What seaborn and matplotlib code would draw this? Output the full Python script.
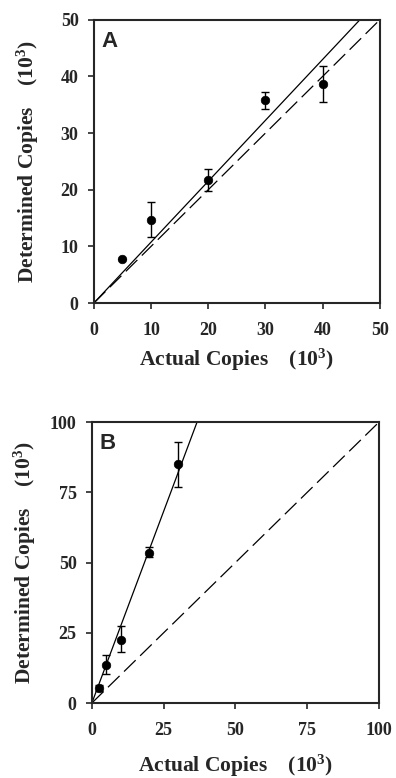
import numpy as np
import pandas as pd
import matplotlib
matplotlib.use('Agg')
import matplotlib.pyplot as plt
import seaborn as sns

# Панель A: фактические и определённые копии (10^3)
actual_a = [5, 10, 20, 30, 40]
determined_a = [7.7, 14.7, 21.7, 35.8, 38.7]
err_low_a = [0.0, 3.0, 1.9, 1.5, 3.2]
err_high_a = [0.0, 3.1, 1.9, 1.5, 3.2]
slope_a = 1.075

# Панель B
actual_b = [2.5, 5, 10, 20, 30]
determined_b = [5.3, 13.5, 22.5, 53.5, 85.0]
err_low_b = [1.0, 3.0, 4.5, 1.5, 8.0]
err_high_b = [1.0, 3.5, 5.0, 2.0, 8.0]
slope_b = 2.73

ticks_a = [0, 10, 20, 30, 40, 50]
ticks_b = [0, 25, 50, 75, 100]

sns.set_style('ticks')
plt.rcParams['font.family'] = ['Liberation Serif', 'DejaVu Serif']
plt.rcParams['font.weight'] = 'bold'
plt.rcParams['mathtext.fontset'] = 'custom'
plt.rcParams['mathtext.rm'] = 'Liberation Serif:bold'
plt.rcParams['mathtext.bf'] = 'Liberation Serif:bold'
plt.rcParams['mathtext.default'] = 'bf'

fig = plt.figure(figsize=(3.96, 7.78), dpi=100)
ax_a = fig.add_axes([0.237, 0.6105, 0.722, 0.364])
ax_b = fig.add_axes([0.232, 0.0964, 0.725, 0.361])


def draw_panel(ax, xs, ys, lo, hi, slope, lim, ticks, letter, xlab_y):
    df = pd.DataFrame({'x': xs, 'y': ys})
    line = pd.DataFrame({'x': [0, lim], 'fit': [0, slope * lim], 'ideal': [0, lim]})
    sns.lineplot(data=line, x='x', y='fit', color='black', lw=0.9, ax=ax)
    sns.lineplot(data=line, x='x', y='ideal', color='black', lw=0.9, ax=ax,
                 linestyle=(0, (13, 5)))
    ax.errorbar(xs, ys, yerr=[lo, hi], fmt='none', ecolor='black',
                elinewidth=1.0, capsize=3, capthick=1.0)
    sns.scatterplot(data=df, x='x', y='y', color='black', s=38,
                    edgecolor='black', ax=ax, zorder=5)
    ax.set_xlim(0, lim)
    ax.set_ylim(0, lim)
    ax.set_xticks(ticks)
    ax.set_yticks(ticks)
    ax.tick_params(axis='y', labelsize=13, length=4, width=1.2, pad=7)
    ax.tick_params(axis='x', labelsize=13, length=4, width=1.2, pad=10)
    for s in ax.spines.values():
        s.set_linewidth(1.5)
    ax.set_xlabel('Actual Copies    (10$^3$)', fontsize=15.5, fontweight='bold')
    ax.set_ylabel('Determined Copies    (10$^3$)', fontsize=15.5, fontweight='bold')
    ax.xaxis.set_label_coords(0.5, xlab_y)
    ax.yaxis.set_label_coords(-0.186, 0.5)
    ax.text(0.028, 0.962, letter, transform=ax.transAxes, ha='left', va='top',
            fontsize=16, fontweight='bold', family=['Liberation Sans', 'DejaVu Sans'])


draw_panel(ax_a, actual_a, determined_a, err_low_a, err_high_a, slope_a, 50, ticks_a, 'A', -0.155)
draw_panel(ax_b, actual_b, determined_b, err_low_b, err_high_b, slope_b, 100, ticks_b, 'B', -0.176)

fig.savefig('out.png', dpi=100)
